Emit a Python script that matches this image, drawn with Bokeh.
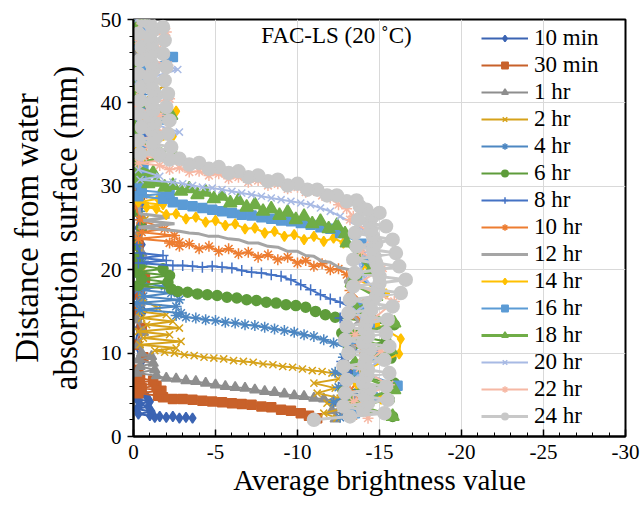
from bokeh.plotting import figure
from bokeh.models import Range1d, FixedTicker, Legend, LegendItem, Label, Title
from bokeh.embed import file_html
from bokeh.resources import INLINE

# ---------------- data ----------------
LABELS = ["10 min", "30 min", "1 hr", "2 hr", "4 hr", "6 hr", "8 hr", "10 hr",
          "12 hr", "14 hr", "16 hr", "18 hr", "20 hr", "22 hr", "24 hr"]

X_TICKS = [0, -5, -10, -15, -20, -25, -30]
X_TICK_LABELS = ["0", "-5", "-10", "-15", "-20", "-25", "-30"]
Y_TICKS = [0, 10, 20, 30, 40, 50]

X_10MIN = [-3.6, -3.2, -2.8, -2.4, -2.0, -1.6, -1.3, -1.0,
           -0.3, -1.1, -0.2, -0.9, -0.4, -1.0, -0.2, -0.8, -0.3,
           -0.4, -0.2, -0.5, -0.1, -0.3, -0.6, -0.2, -0.4, -0.1, -0.5, -0.3, -0.2,
           -0.6, -0.1, -0.4, -0.3, -0.2, -0.5, -0.1, -0.4, -0.2, -0.3, -0.5, -0.2]
Y_10MIN = [2.2, 2.3, 2.2, 2.4, 2.3, 2.4, 2.3, 2.5,
           2.7, 3.0, 3.3, 3.6, 3.9, 4.2, 4.5, 4.8, 5.1,
           6, 7.5, 9, 11, 13, 15, 17, 19, 21, 23, 25, 27,
           29, 31, 33, 35, 37, 39, 41, 43, 45, 47, 49, 50]

X_30MIN = [-11.2, -10.7, -10.2, -9.6, -9.0, -8.4, -7.8, -7.2, -6.6, -6.0, -5.4, -4.8, -4.2, -3.6, -3.0, -2.4, -1.8,
           -1.5, -0.3, -1.7, -0.5, -1.4, -0.2, -1.2, -0.4,
           -0.3, -0.6, -0.2, -0.5, -0.1, -0.4, -0.7, -0.2, -0.3, -0.5, -0.1, -0.4,
           -0.2, -0.6, -0.3, -0.1, -0.5, -0.2, -0.4, -0.3, -0.6, -0.2, -0.4]
Y_30MIN = [2.2, 2.5, 2.8, 3.1, 3.2, 3.5, 3.6, 3.8, 3.9, 4.0, 4.1, 4.2, 4.3, 4.4, 4.5, 4.5, 4.7,
           4.9, 5.2, 5.5, 5.8, 6.1, 6.4, 6.7, 7.0,
           8, 9.5, 11, 13, 15, 17, 19, 21, 23, 25, 27, 29,
           31, 33, 35, 37, 39, 41, 43, 45, 47, 49, 50]

X_1HR = [-12.3, -12.9, -12.1, -12.8, -12.4,
         -12.2, -11.6, -11.0, -10.4, -9.8, -9.2, -8.6, -8.0, -7.4, -6.8, -6.2, -5.6, -5.0, -4.4, -3.8, -3.2, -2.6, -2.0, -1.4,
         -0.2, -1.3, -0.4, -1.2, -0.3, -1.1, -0.5,
         -0.3, -0.6, -0.2, -0.4, -0.7, -0.3, -0.5, -0.2, -0.6, -0.4, -0.1,
         -0.5, -0.3, -0.6, -0.2, -0.4, -0.3, -0.5, -0.2, -0.4, -0.3]
Y_1HR = [2.1, 2.6, 3.1, 3.6, 4.0,
         4.3, 4.5, 4.6, 4.8, 4.9, 5.1, 5.3, 5.4, 5.6, 5.8, 5.9, 6.0, 6.2, 6.4, 6.6, 6.7, 6.9, 7.0, 7.3,
         7.6, 8.0, 8.4, 8.8, 9.2, 9.6, 10.0,
         11, 12.5, 14, 16, 18, 20, 22, 24, 26, 28, 30,
         32, 34, 36, 38, 40, 42, 44, 46, 48, 50]

X_2HR = [-12.4, -11.6, -12.9, -11.8, -12.6, -11.2, -12.3, -11.0, -12.5,
         -12.7, -12.1, -11.5, -10.9, -10.3, -9.7, -9.1, -8.5, -7.9, -7.3, -6.7, -6.1, -5.5, -4.9, -4.3, -3.7, -3.1, -2.5, -1.9, -1.3,
         -2.6, -0.4, -2.9, -0.6, -2.2, -0.3, -2.8, -0.8, -2.4, -0.5, -2.0, -0.4, -1.5,
         -0.5, -0.2, -0.6, -0.3, -0.4, -0.7, -0.2, -0.5, -0.3, -0.6, -0.2, -1.6, -0.4, -1.8, -0.3, -1.2, -0.5, -0.3]
Y_2HR = [2.2, 2.8, 3.4, 4.0, 4.6, 5.2, 5.8, 6.4, 6.9,
         7.3, 7.6, 7.8, 7.9, 8.1, 8.3, 8.4, 8.6, 8.7, 8.9, 9.0, 9.1, 9.3, 9.4, 9.5, 9.7, 9.8, 10.0, 10.1, 10.3,
         10.6, 11.0, 11.4, 11.8, 12.2, 12.6, 13.0, 13.4, 13.8, 14.2, 14.6, 15.0, 15.4,
         16.5, 18, 20, 22, 24, 26, 28, 30, 32, 34, 36, 38, 40, 42, 44, 46, 48, 50]

X_4HR = [-12.6, -13.4, -12.2, -13.0, -12.5, -13.6, -12.3, -13.1, -12.8, -13.3,
         -12.2, -11.6, -11.0, -10.4, -9.8, -9.2, -8.6, -8.0, -7.4, -6.8, -6.2, -5.6, -5.0, -4.4, -3.8, -3.2, -2.6,
         -2.9, -0.4, -2.6, -0.2, -2.8, -0.6, -2.3, -0.3, -1.9, -0.5,
         -0.3, -0.6, -0.2, -0.5, -0.4, -0.2, -0.6, -0.3, -0.5, -0.2, -0.4, -0.6, -0.3, -0.2, -0.5, -0.4, -0.2]
Y_4HR = [2.3, 3.2, 4.1, 5.0, 5.9, 6.8, 7.7, 8.6, 9.5, 10.4,
         11.2, 11.6, 12.0, 12.2, 12.5, 12.7, 12.9, 13.1, 13.3, 13.4, 13.6, 13.7, 13.9, 14.0, 14.2, 14.3, 14.5,
         14.8, 15.2, 15.6, 16.0, 16.4, 16.8, 17.2, 17.6, 18.0, 18.4,
         19.5, 21, 23, 25, 27, 29, 31, 33, 35, 37, 39, 41, 43, 45, 47, 49, 50]

X_6HR = [-15.8, -13.0, -15.6, -12.8, -15.9, -13.2, -12.9, -15.7, -13.1, -15.4, -12.7, -15.9,
         -12.3, -11.7, -11.1, -10.5, -9.9, -9.3, -8.7, -8.1, -7.5, -6.9, -6.3, -5.7, -5.1, -4.5, -3.9, -3.3, -2.7,
         -2.3, -0.3, -2.1, -0.5, -2.2, -0.2, -1.8, -0.4,
         -0.3, -0.1, -0.5, -0.2, -0.4, -0.1, -0.3, -0.5, -0.2, -0.4, -0.1, -0.3, -0.2, -0.5, -0.1, -0.3]
Y_6HR = [2.4, 3.4, 4.4, 5.4, 6.4, 7.4, 8.4, 9.4, 10.4, 11.4, 12.4, 13.4,
         14.3, 14.6, 15.0, 15.5, 15.7, 15.8, 16.0, 16.1, 16.3, 16.4, 16.6, 16.7, 16.9, 17.0, 17.1, 17.3, 17.4,
         17.7, 18.1, 18.5, 18.9, 19.3, 19.7, 20.1, 20.5,
         21.5, 23, 25, 27, 29, 31, 33, 35, 37, 39, 41, 43, 45, 47, 49, 50]

X_8HR = [-13.2, -12.6, -13.5, -12.8, -13.3, -12.7, -13.4, -12.9, -13.1, -12.6, -13.4,
         -12.6, -12.0, -11.4, -10.8, -10.2, -9.6, -9.0, -8.4, -7.8, -7.2, -6.6, -6.0, -5.4, -4.8, -4.2, -3.6, -3.0, -2.4,
         -0.3, -2.0, -0.5, -1.8, -0.4,
         -0.2, -0.5, -0.3, -0.6, -0.2, -0.4, -0.3, -0.7, -0.2, -0.5, -0.3, -0.2, -0.6, -0.4, -0.3]
Y_8HR = [2.5, 3.8, 5.1, 6.4, 7.7, 9.0, 10.3, 11.6, 12.9, 14.2, 15.4,
         16.1, 16.5, 17.0, 17.6, 18.2, 18.8, 19.2, 19.4, 19.6, 19.7, 19.9, 20.2, 20.3, 20.4, 20.3, 20.4, 20.5, 20.5,
         20.8, 21.1, 21.4, 21.7, 22.0,
         23, 24.5, 26, 28, 30, 32, 34, 36, 38, 40, 42, 44, 46, 48, 50]

X_10HR = [-13.4, -14.0, -13.2, -13.8, -13.5, -14.1, -13.3, -13.9, -13.6, -14.0, -13.2, -13.5,
          -13.0, -12.5, -12.0, -11.5, -11.0, -10.5, -10.0, -9.4, -8.8, -8.2, -7.6, -7.0, -6.4, -5.8, -5.2, -4.6, -4.0, -3.4, -2.8, -2.2,
          -2.8, -0.3, -2.5, -0.5, -1.9,
          -0.4, -0.2, -0.6, -0.3, -0.5, -0.2, -0.4, -0.7, -0.3, -0.5, -0.2, -0.4, -0.3, -0.2]
Y_10HR = [2.5, 4.0, 5.5, 7.0, 8.5, 10.0, 11.5, 13.0, 14.5, 16.0, 17.5, 18.8,
          19.4, 20.1, 20.0, 20.7, 20.4, 21.1, 20.8, 21.5, 21.2, 21.8, 21.5, 22.1, 21.9, 22.5, 22.2, 22.8, 22.5, 23.1, 22.8, 23.2,
          23.3, 23.7, 24.1, 24.5, 24.9,
          26, 27.5, 29, 31, 33, 35, 37, 39, 41, 43, 45, 47, 49, 50]

X_12HR = [-12.9, -13.6, -12.7, -13.9, -13.0, -13.5, -12.8, -13.7, -13.1, -13.4, -12.9, -13.6,
          -12.5, -12.0, -11.5, -11.0, -10.5, -10.0, -9.4, -8.8, -8.2, -7.6, -7.0, -6.4, -5.8, -5.2, -4.6, -4.0, -3.4, -2.8, -2.4,
          -0.3, -2.5, -0.6, -2.2, -0.4,
          -0.3, -0.6, -0.2, -0.5, -0.3, -0.6, -0.2, -0.4, -0.3, -0.5, -0.2, -0.4, -0.3]
Y_12HR = [2.6, 4.2, 5.8, 7.4, 9.0, 10.6, 12.2, 13.8, 15.4, 17.0, 18.6, 19.8,
          20.3, 20.9, 21.0, 21.6, 21.7, 22.2, 22.2, 22.7, 22.8, 23.2, 23.2, 23.6, 23.7, 24.0, 24.0, 24.3, 24.4, 24.6, 24.7,
          25.1, 25.5, 25.9, 26.3, 26.7,
          28, 29.5, 31, 33, 35, 37, 39, 41, 43, 45, 47, 49, 50]

X_14HR = [-13.4, -15.1, -13.6, -14.3, -16.2, -16.3, -14.8, -13.7, -15.4, -13.6, -14.2, -13.8,
          -12.8, -12.2, -11.6, -11.0, -10.4, -9.8, -9.2, -8.6, -8.0, -7.4, -6.8, -6.2, -5.6, -5.0, -4.4, -3.8, -3.2, -2.6, -2.0, -1.4, -0.8,
          -1.8, -0.3, -1.5, -0.5,
          -0.4, -0.2, -0.6, -0.3, -2.4, -0.5, -2.6, -0.3, -0.7, -0.2, -0.5, -0.3, -0.6, -0.4]
Y_14HR = [2.7, 4.5, 6.3, 8.1, 9.9, 11.7, 13.5, 15.3, 17.1, 18.9, 20.7, 22.5,
          23.2, 23.8, 23.4, 24.0, 23.6, 24.2, 24.0, 24.6, 24.4, 25.0, 24.9, 25.5, 25.3, 25.9, 25.7, 26.3, 26.1, 26.7, 26.6, 27.3, 27.5,
          27.8, 28.1, 28.5, 28.9,
          30, 31.5, 33, 34.5, 36, 37.5, 39, 40.5, 42, 43.5, 45, 46.5, 48, 49.5]

X_16HR = [-13.5, -14.6, -16.1, -13.7, -14.9, -13.4, -14.4, -13.8, -15.0, -13.6, -14.2, -13.9,
          -12.6, -12.0, -11.4, -10.8, -10.2, -9.6, -9.0, -8.4, -7.8, -7.2, -6.6, -6.0, -5.4, -4.8, -4.2, -3.6, -3.0, -2.4, -1.8,
          -0.3, -2.2, -0.5,
          -0.3, -0.6, -0.2, -0.5, -0.3, -2.0, -0.4, -2.1, -0.3, -0.6, -2.4, -0.2, -0.5, -0.3]
Y_16HR = [2.8, 4.7, 6.1, 7.9, 9.8, 11.7, 13.6, 15.5, 17.4, 19.3, 21.2, 23.1,
          24.4, 24.9, 25.1, 25.4, 25.6, 25.8, 25.9, 26.1, 26.3, 26.5, 26.6, 26.8, 27.0, 27.2, 27.4, 27.6, 27.8, 28.1, 28.5,
          28.8, 29.2, 29.5,
          30.5, 32, 33.5, 35, 36.5, 38, 39.5, 41, 42.5, 44, 45.5, 47, 48.5, 50]

X_18HR = [-15.8, -13.3, -15.9, -14.0, -13.5, -15.7, -13.4, -15.9, -13.6, -14.8, -13.3, -14.5, -13.7, -13.0,
          -12.9, -12.4, -11.9, -11.4, -10.9, -10.4, -9.9, -9.4, -8.9, -8.4, -7.9, -7.4, -6.9, -6.4, -5.9, -5.4, -4.9,
          -4.4, -3.9, -3.4, -2.9, -2.4, -1.9, -1.4, -0.9, -0.4,
          -0.2, -1.2,
          -0.1, -2.4, -0.2, -0.1, -2.3, -0.3, -0.1, -0.2, -0.1, -1.4, -0.2, -0.1, -0.6]
Y_18HR = [2.4, 4.0, 5.6, 7.2, 8.8, 10.4, 12.0, 13.6, 15.2, 16.8, 18.4, 20.0, 21.6, 23.2,
          24.3, 25.3, 24.9, 25.8, 25.5, 26.4, 26.0, 26.9, 26.5, 27.3, 27.0, 27.8, 27.5, 28.3, 28.0, 28.8, 28.5,
          29.3, 29.0, 29.7, 29.4, 30.1, 29.9, 30.5, 30.3, 30.9,
          31.2, 31.6,
          32.5, 34, 35.5, 37, 38.5, 40, 41.5, 43, 44.5, 46, 47.5, 49, 50]

X_20HR = [-13.8, -14.5, -13.5, -14.9, -13.9, -14.3, -13.6, -15.0, -14.1, -13.7, -14.6, -13.9,
          -12.6, -12.0, -11.4, -10.8, -10.2, -9.6, -9.0, -8.4, -7.8, -7.2, -6.6, -6.0, -5.4, -4.8, -4.2, -3.6, -3.0, -2.4,
          -0.4, -1.6,
          -0.3, -0.6, -0.2, -2.8, -0.4, -0.3, -0.5, -0.2, -2.7, -0.4, -0.3, -0.6, -0.2]
Y_20HR = [3.0, 5.0, 7.0, 9.0, 11.0, 13.0, 15.0, 17.0, 19.0, 21.0, 23.0, 25.0,
          26.4, 27.0, 27.4, 27.8, 28.0, 28.2, 28.4, 28.6, 28.8, 29.0, 29.2, 29.4, 29.6, 29.8, 29.9, 30.1, 30.3, 30.5,
          30.8, 31.2,
          32, 33.5, 35, 36.5, 38, 39.5, 41, 42.5, 44, 45.5, 47, 48.5, 50]

X_22HR = [-14.3, -13.4, -15.6, -13.8, -15.1, -13.5, -14.7, -15.9, -13.6, -15.2, -13.9, -14.6, -13.2,
          -13.4, -13.0, -12.5, -12.0, -11.5, -11.0, -10.5, -10.0, -9.4, -8.8, -8.2, -7.6, -7.0, -6.4, -5.8, -5.2,
          -4.6, -4.0, -3.4, -2.8, -2.2, -1.6,
          -0.3, -2.2, -0.6,
          -1.0, -0.2, -2.0, -0.5, -1.6, -0.1, -2.2, -0.4, -1.2, -0.2, -2.1, -0.6, -1.5, -0.3, -2.0, -0.5]
Y_22HR = [2.2, 4.2, 6.2, 8.2, 10.2, 12.2, 14.2, 16.2, 18.2, 20.2, 22.2, 24.2, 26.0,
          26.4, 27.3, 27.8, 28.6, 28.9, 29.5, 29.3, 29.9, 29.7, 30.3, 30.1, 30.7, 30.5, 31.1, 30.9, 31.5,
          31.3, 31.8, 31.7, 32.2, 32.0, 32.5,
          32.8, 33.2, 33.6,
          34.5, 35.5, 36.5, 37.5, 38.5, 39.5, 40.5, 41.5, 42.5, 43.5, 44.5, 45.5, 46.5, 47.5, 48.5, 49.5]

X_24HR = [-11.0, -13.2, -15.3, -14.0, -12.8, -14.3, -15.5, -14.1, -12.9, -14.4, -15.4, -14.0,
          -13.0, -14.2, -15.6, -14.3, -12.8, -14.1, -15.3, -14.2, -13.1, -14.4, -15.6, -14.0,
          -12.9, -14.3, -15.4, -14.1, -13.0, -14.2, -15.5, -14.3, -13.1, -14.5, -15.8, -14.4,
          -13.2, -14.8, -16.3, -14.9, -13.4, -15.0, -16.6, -15.0, -13.5, -14.9, -16.2, -14.8,
          -13.4, -14.7, -16.0, -14.6, -13.6, -14.8, -15.8, -14.6, -13.5, -14.5, -15.4, -14.4,
          -13.7, -14.6, -15.0, -14.2,
          -13.8, -13.6, -13.0, -12.4, -11.8, -11.2, -10.6, -10.0, -9.4, -8.8, -8.2,
          -7.6, -7.0, -6.4, -5.8, -5.2, -4.6, -4.0, -3.4, -2.8, -2.2, -1.6,
          -0.4, -1.3, -2.3, -1.2, -0.3, -1.4, -2.1, -1.1, -0.5, -1.3, -2.2, -1.0,
          -0.3, -1.2, -2.0, -1.1, -0.4, -1.3, -2.1, -1.2, -0.5, -1.1, -1.9, -1.0,
          -0.3, -1.2, -2.0, -1.1, -0.4, -1.0, -1.8, -1.2, -0.5, -1.1, -1.9, -1.0,
          -0.3, -1.2, -1.8, -1.0, -0.6]
Y_24HR = [2.0, 2.4, 2.8, 3.2, 3.6, 4.0, 4.4, 4.8, 5.2, 5.6, 6.0, 6.4,
          6.8, 7.2, 7.6, 8.0, 8.4, 8.8, 9.2, 9.6, 10.0, 10.4, 10.8, 11.2,
          11.6, 12.0, 12.4, 12.8, 13.2, 13.6, 14.0, 14.4, 14.8, 15.2, 15.6, 16.0,
          16.4, 16.8, 17.2, 17.6, 18.0, 18.4, 18.8, 19.2, 19.6, 20.0, 20.4, 20.8,
          21.2, 21.6, 22.0, 22.4, 22.8, 23.2, 23.6, 24.0, 24.4, 24.8, 25.2, 25.6,
          26.0, 26.4, 26.8, 27.2,
          27.6, 28.3, 28.2, 28.9, 28.9, 29.6, 29.6, 30.3, 30.1, 30.8, 30.6,
          31.3, 31.1, 31.8, 31.6, 32.3, 32.1, 32.8, 32.6, 33.3, 33.2, 33.7,
          33.9, 34.3, 34.7, 35.1, 35.5, 35.9, 36.3, 36.7, 37.1, 37.5, 37.9, 38.3,
          38.7, 39.1, 39.5, 39.9, 40.3, 40.7, 41.1, 41.5, 41.9, 42.3, 42.7, 43.1,
          43.5, 43.9, 44.3, 44.7, 45.1, 45.5, 45.9, 46.3, 46.7, 47.1, 47.5, 47.9,
          48.3, 48.7, 49.1, 49.5, 49.9]

SERIES_X = [X_10MIN, X_30MIN, X_1HR, X_2HR, X_4HR, X_6HR, X_8HR, X_10HR,
            X_12HR, X_14HR, X_16HR, X_18HR, X_20HR, X_22HR, X_24HR]
SERIES_Y = [Y_10MIN, Y_30MIN, Y_1HR, Y_2HR, Y_4HR, Y_6HR, Y_8HR, Y_10HR,
            Y_12HR, Y_14HR, Y_16HR, Y_18HR, Y_20HR, Y_22HR, Y_24HR]

# ---------------- styles ----------------
COLORS = ["#3B64B3", "#C8612A", "#8E8E8E", "#D6A21A", "#4D87C2", "#5E9C3B",
          "#4472C4", "#ED7D31", "#A5A5A5", "#FFC000", "#5B9BD5", "#70AD47",
          "#A8BAE4", "#F6B8A4", "#C8C8C8"]
MARKERS = ["diamond", "square", "triangle", "x", "asterisk", "circle",
           "cross", "asterisk", None, "diamond", "square", "triangle",
           "x", "asterisk", "circle"]
MSIZE = [10, 9, 10, 10, 11, 10, 11, 11, 0, 10, 9, 13, 10, 11, 13]
LWIDTH = [2, 2, 2, 2, 2, 2, 2, 2, 3, 2, 2, 3, 2, 2, 3]

SERIF = "Liberation Serif"

p = figure(width=644, height=509, output_backend="svg", toolbar_location=None,
           x_range=Range1d(0, -30), y_range=Range1d(0, 50),
           min_border_left=133, min_border_right=19, min_border_top=19,
           min_border_bottom=73)
p.background_fill_color = "white"
p.border_fill_color = "white"
p.outline_line_color = "black"
p.outline_line_width = 2

xt = FixedTicker(ticks=X_TICKS, minor_ticks=[-v for v in range(0, 31)])
yt = FixedTicker(ticks=Y_TICKS, minor_ticks=[v for v in range(0, 51, 2)])
p.xaxis.ticker = xt
p.yaxis.ticker = yt
p.xgrid.ticker = xt
p.ygrid.ticker = yt
p.xaxis.major_label_overrides = {t: s for t, s in zip(X_TICKS, X_TICK_LABELS)}
p.xgrid.grid_line_color = "#D9D9D9"
p.ygrid.grid_line_color = "#D9D9D9"
p.xgrid.grid_line_width = 1
p.ygrid.grid_line_width = 1

for ax in (p.xaxis[0], p.yaxis[0]):
    ax.axis_line_color = "black"
    ax.axis_line_width = 2
    ax.major_tick_line_color = "black"
    ax.minor_tick_line_color = "black"
    ax.major_tick_line_width = 1.5
    ax.minor_tick_line_width = 1
    ax.major_label_text_font = SERIF
    ax.major_label_text_font_size = "21px"
    ax.major_label_text_color = "black"
    ax.axis_label_text_font = SERIF
    ax.axis_label_text_font_style = "normal"
    ax.axis_label_text_color = "black"

p.xaxis.major_tick_in = 7
p.xaxis.major_tick_out = 0
p.xaxis.minor_tick_in = 4
p.xaxis.minor_tick_out = 0
p.xaxis.major_label_standoff = 8
p.xaxis.axis_label = "Average brightness value"
p.xaxis.axis_label_text_font_size = "29px"
p.xaxis.axis_label_standoff = 2

p.yaxis.major_tick_in = 0
p.yaxis.major_tick_out = 6
p.yaxis.minor_tick_in = 0
p.yaxis.minor_tick_out = 4
p.yaxis.major_label_standoff = 6
# second line of the y title on the axis itself, first line as an outer title
p.yaxis.axis_label = "absorption surface (mm)"
p.yaxis.axis_label_text_font_size = "33px"
p.yaxis.axis_label_standoff = 14
p.add_layout(Title(text="Distance from water", align="center", text_font=SERIF,
                   text_font_size="33px", text_font_style="normal",
                   text_color="black", standoff=0), "left")

items = []
for i, lab in enumerate(LABELS):
    xs, ys = SERIES_X[i], SERIES_Y[i]
    n = min(len(xs), len(ys))
    xs, ys = xs[:n], ys[:n]
    rs = [p.line(xs, ys, line_color=COLORS[i], line_width=LWIDTH[i])]
    if MARKERS[i] is not None:
        rs.append(p.scatter(xs, ys, marker=MARKERS[i], size=MSIZE[i],
                            line_color=COLORS[i], fill_color=COLORS[i],
                            line_width=1.5))
    items.append(LegendItem(label=lab, renderers=rs))

legend = Legend(items=items, location=(343, 2))
legend.background_fill_alpha = 0
legend.border_line_alpha = 0
legend.padding = 5
legend.spacing = 0
legend.margin = 0
legend.glyph_width = 47
legend.glyph_height = 16
legend.label_height = 27
legend.label_standoff = 6
legend.label_text_font = SERIF
legend.label_text_font_size = "23px"
legend.label_text_color = "black"
p.add_layout(legend)

title = Label(x=203, y=401, x_units="screen", y_units="screen",
              text="FAC-LS (20 \u02daC)", text_font=SERIF, text_font_size="23px",
              text_align="center", text_baseline="middle", text_color="black")
p.add_layout(title)

open("out.html", "w").write(file_html(p, INLINE))
